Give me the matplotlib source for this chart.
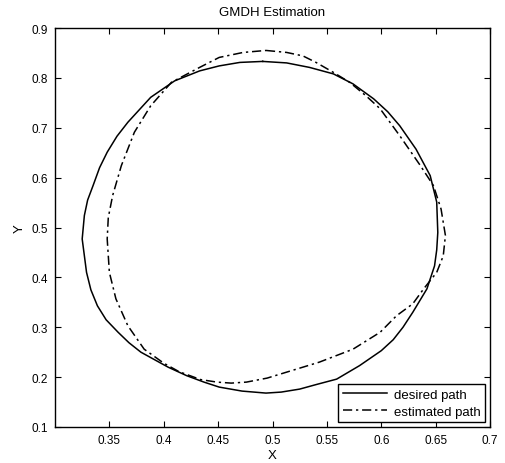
import numpy as np
import matplotlib
matplotlib.use("Agg")
import matplotlib.pyplot as plt

plt.rcParams['font.family'] = ['Liberation Sans', 'DejaVu Sans']

# desired path (clockwise from top)
xd = [0.491, 0.513, 0.534, 0.556, 0.574, 0.593, 0.606, 0.617, 0.632, 0.645,
      0.651, 0.652, 0.651, 0.649, 0.642, 0.629, 0.620, 0.611, 0.600, 0.580,
      0.559, 0.540, 0.525, 0.508, 0.494, 0.472, 0.451, 0.437, 0.421, 0.404,
      0.379, 0.368, 0.358, 0.347, 0.339, 0.333, 0.329, 0.325, 0.327, 0.330,
      0.335, 0.341, 0.348, 0.357, 0.367, 0.388, 0.410, 0.433, 0.451, 0.470,
      0.491]
yd = [0.833, 0.830, 0.821, 0.808, 0.788, 0.758, 0.732, 0.704, 0.657, 0.604,
      0.551, 0.490, 0.455, 0.423, 0.377, 0.330, 0.300, 0.275, 0.253, 0.223,
      0.196, 0.185, 0.176, 0.170, 0.168, 0.172, 0.180, 0.190, 0.203, 0.220,
      0.250, 0.269, 0.290, 0.315, 0.343, 0.375, 0.410, 0.477, 0.524, 0.555,
      0.584, 0.620, 0.651, 0.683, 0.711, 0.761, 0.794, 0.814, 0.824, 0.831,
      0.833]

# estimated path
xe = [0.494, 0.513, 0.528, 0.540, 0.556, 0.571, 0.586, 0.599, 0.617, 0.636,
      0.648, 0.655, 0.659, 0.657, 0.651, 0.639, 0.629, 0.614, 0.599, 0.574,
      0.543, 0.513, 0.495, 0.476, 0.462, 0.449, 0.434, 0.414, 0.400, 0.382,
      0.367, 0.356, 0.350, 0.348, 0.349, 0.353, 0.361, 0.373, 0.388, 0.407,
      0.433, 0.451, 0.473, 0.494]
ye = [0.855, 0.851, 0.844, 0.831, 0.811, 0.791, 0.764, 0.738, 0.684, 0.624,
      0.584, 0.537, 0.484, 0.443, 0.410, 0.377, 0.347, 0.323, 0.290, 0.256,
      0.230, 0.210, 0.198, 0.190, 0.188, 0.190, 0.195, 0.211, 0.228, 0.256,
      0.303, 0.357, 0.410, 0.477, 0.520, 0.564, 0.624, 0.691, 0.744, 0.791,
      0.821, 0.841, 0.851, 0.855]

xticks = [0.35, 0.4, 0.45, 0.5, 0.55, 0.6, 0.65, 0.7]
xticklabels = ['0.35', '0.4', '0.45', '0.5', '0.55', '0.6', '0.65', '0.7']
yticks = [0.1, 0.2, 0.3, 0.4, 0.5, 0.6, 0.7, 0.8, 0.9]
yticklabels = ['0.1', '0.2', '0.3', '0.4', '0.5', '0.6', '0.7', '0.8', '0.9']

fig = plt.figure(figsize=(5.05, 4.64), dpi=100)
ax = fig.add_axes([55/505, 1-428/464, 435/505, 399/464])

ax.plot(xd, yd, 'k-', lw=1.1, label='desired path')
ax.plot(xe, ye, 'k-.', lw=1.1, label='estimated path', dashes=(6, 2.5, 1.5, 2.5))

ax.set_xlim(0.3, 0.7)
ax.set_ylim(0.1, 0.9)
ax.set_xticks(xticks)
ax.set_xticklabels(xticklabels)
ax.set_yticks(yticks)
ax.set_yticklabels(yticklabels)
ax.tick_params(direction='in', length=4, width=0.8, top=True, right=True,
               labelsize=8.5, pad=5)
for s in ax.spines.values():
    s.set_linewidth(1.0)

ax.set_title('GMDH Estimation', fontsize=9.5, pad=9)
ax.set_xlabel('X', fontsize=9.5, labelpad=2.5)
ax.set_ylabel('Y', fontsize=9.5, labelpad=4)

leg = ax.legend(loc='lower right', fontsize=9.5, fancybox=False, framealpha=1,
                edgecolor='black', borderaxespad=0.35, handlelength=3.4,
                handletextpad=0.5, borderpad=0.35, labelspacing=0.35)
leg.get_frame().set_linewidth(1.0)

fig.savefig('out.png', dpi=100)
